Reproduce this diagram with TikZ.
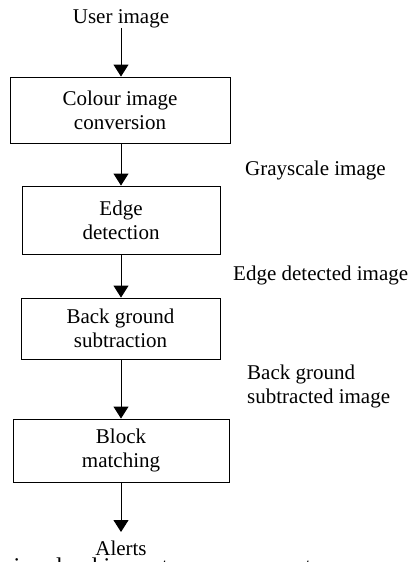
\documentclass[tikz,border=0pt]{standalone}
\usepackage{fontspec}
\setmainfont{Liberation Serif}
\usetikzlibrary{arrows.meta}

\begin{document}
\begin{tikzpicture}[x=1pt,y=-1pt]
\tikzset{>={Triangle[width=15pt,length=12pt]}}
\tikzset{block/.style={draw,line width=0.9pt,align=center,inner sep=0pt,font=\fontsize{21}{24}\selectfont}}
\tikzset{lbl/.style={align=left,inner sep=0pt,font=\fontsize{21}{24}\selectfont}}

\clip (0,0) rectangle (413,562);

\node[lbl,anchor=north] (user) at (121,9) {User image};

\node[block,minimum width=220pt,minimum height=66pt] (colour) at (120,110) {Colour image\\conversion};
\node[block,minimum width=198pt,minimum height=68pt] (edge) at (121,220) {Edge\\detection};
\node[block,minimum width=199pt,minimum height=61pt] (back) at (120.5,328.5) {Back ground\\subtraction};
\node[block,minimum width=216pt,minimum height=63pt] (match) at (121,450.5) {Block\\matching};

\node[lbl,anchor=north] (alerts) at (121,541) {Alerts};
\coordinate (tip) at (121,532);

\node[lbl,anchor=west] (gray) at (245,170) {Grayscale image};
\node[lbl,anchor=west] (edged) at (233,275) {Edge detected image};
\node[lbl,anchor=west] (subd) at (247,386) {Back ground\\subtracted image};

\draw[->,line width=0.9pt] (user.south) -- (user.south |- colour.north);
\draw[->,line width=0.9pt] (colour.south -| edge.north) -- (edge.north);
\draw[->,line width=0.9pt] (edge.south) -- (edge.south |- back.north);
\draw[->,line width=0.9pt] (back.south -| match.north) -- (match.north);
\draw[->,line width=0.9pt] (match.south) -- (tip);

% caption, cut off at the bottom
\node[anchor=base west,inner sep=0pt,font=\fontsize{24}{28}\selectfont] (cap) at (-2,574) {s involved in posture assessment};
\end{tikzpicture}
\end{document}
